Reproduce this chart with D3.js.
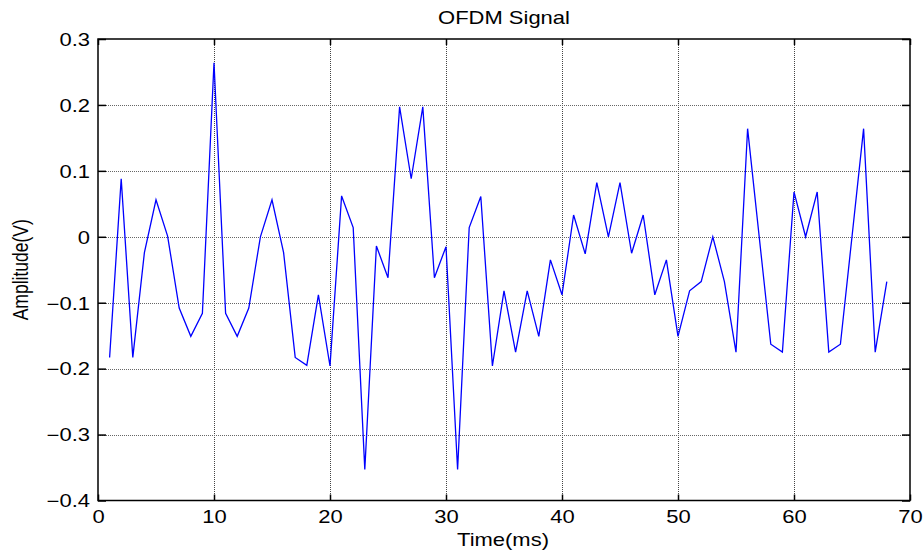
<!DOCTYPE html>
<html>
<head>
<meta charset="utf-8">
<script src="https://cdn.jsdelivr.net/npm/d3@7"></script>
<style>
  body { margin: 0; background: #fff; }
  svg { display: block; }
  text { font-family: "Liberation Sans", Arial, sans-serif; fill: #000; }
</style>
</head>
<body>
<svg id="chart" width="924" height="552"></svg>
<script>
const title = "OFDM Signal";
const xLabel = "Time(ms)";
const yLabel = "Amplitude(V)";
const timeMs = d3.range(1, 69);
const amplitude = [
  -0.183, 0.088, -0.183, -0.024, 0.056, 0.001, -0.108, -0.151, -0.116, 0.264,
  -0.116, -0.151, -0.108, 0.0, 0.056, -0.024, -0.183, -0.195, -0.088, -0.196,
  0.062, 0.014, -0.353, -0.014, -0.062, 0.197, 0.088, 0.197, -0.062, -0.015,
  -0.353, 0.014, 0.061, -0.196, -0.082, -0.175, -0.082, -0.151, -0.035, -0.088,
  0.033, -0.026, 0.082, 0.0, 0.082, -0.025, 0.033, -0.088, -0.035, -0.151,
  -0.082, -0.068, 0.0, -0.068, -0.175, 0.164, 0.0, -0.163, -0.175, 0.068,
  0.0, 0.068, -0.175, -0.163, 0.0, 0.164, -0.175, -0.068
];
const xTicks = [0, 10, 20, 30, 40, 50, 60, 70];
const yTicks = [-0.4, -0.3, -0.2, -0.1, 0, 0.1, 0.2, 0.3];

const svg = d3.select("#chart");
const L = 98, R = 910, T = 39, B = 500.5;
const SX = 1.256;      // horizontal stretch of text
const FS = 17.5;
const x = d3.scaleLinear().domain([0, 70]).range([L, R]);
const y = d3.scaleLinear().domain([-0.4, 0.3]).range([B, T]);

const fmtY = d => (Math.abs(d) < 1e-9 ? "0" : d3.format(".1f")(d));

// grid
const g = svg.append("g");
g.selectAll("line.vg").data(xTicks.slice(1, -1)).join("line")
  .attr("x1", d => Math.round(x(d)) + 0.5).attr("x2", d => Math.round(x(d)) + 0.5)
  .attr("y1", T).attr("y2", B)
  .attr("stroke", "#444").attr("stroke-width", 1).attr("stroke-dasharray", "1,1");
g.selectAll("line.hg").data(yTicks.slice(1, -1)).join("line")
  .attr("x1", L).attr("x2", R)
  .attr("y1", d => Math.round(y(d)) + 0.5).attr("y2", d => Math.round(y(d)) + 0.5)
  .attr("stroke", "#666").attr("stroke-width", 1).attr("stroke-dasharray", "1,1");

// axes with inward ticks
const tlx = 6, tly = 8;
svg.append("g").attr("transform", `translate(0,${B})`)
  .call(d3.axisBottom(x).tickValues(xTicks).tickSize(-tlx).tickFormat(d3.format("d")))
  .call(a => a.select(".domain").remove())
  .call(a => a.selectAll("text")
    .attr("font-size", FS).attr("font-family", "Liberation Sans, Arial, sans-serif")
    .attr("y", 22.5).attr("dy", 0).attr("transform", `scale(${SX},1)`));
svg.append("g").attr("transform", `translate(0,${T})`)
  .call(d3.axisTop(x).tickValues(xTicks).tickSize(-tlx).tickFormat(""))
  .call(a => a.select(".domain").remove());
svg.append("g").attr("transform", `translate(${L},0)`)
  .call(d3.axisLeft(y).tickValues(yTicks).tickSize(-tly).tickFormat(fmtY))
  .call(a => a.select(".domain").remove())
  .call(a => a.selectAll("text")
    .attr("font-size", FS).attr("font-family", "Liberation Sans, Arial, sans-serif")
    .attr("x", -8 / SX).attr("dy", "0.36em").attr("transform", `scale(${SX},1)`));
svg.append("g").attr("transform", `translate(${R},0)`)
  .call(d3.axisRight(y).tickValues(yTicks).tickSize(-tly).tickFormat(""))
  .call(a => a.select(".domain").remove());

svg.selectAll(".tick line").attr("stroke", "#000").attr("stroke-width", 1.5);

// frame
svg.append("rect").attr("x", L).attr("y", T).attr("width", R - L).attr("height", B - T)
  .attr("fill", "none").attr("stroke", "#000").attr("stroke-width", 1.5);

// line
svg.append("path")
  .datum(timeMs.map((t, i) => [t, amplitude[i]]))
  .attr("fill", "none").attr("stroke", "#0000ff").attr("stroke-width", 1.3)
  .attr("stroke-linejoin", "miter")
  .attr("d", d3.line().x(d => x(d[0])).y(d => y(d[1])));

// labels
svg.append("text").attr("transform", `translate(${(L + R) / 2},24) scale(${SX},1)`)
  .attr("text-anchor", "middle").attr("font-size", FS).text(title);
svg.append("text").attr("transform", `translate(${(L + R) / 2 - 1},546) scale(${SX},1)`)
  .attr("text-anchor", "middle").attr("font-size", FS).text(xLabel);
svg.append("text").attr("transform", `translate(28,${(T + B) / 2}) scale(${SX},1) rotate(-90)`)
  .attr("text-anchor", "middle").attr("font-size", FS).text(yLabel);
</script>
</body>
</html>
